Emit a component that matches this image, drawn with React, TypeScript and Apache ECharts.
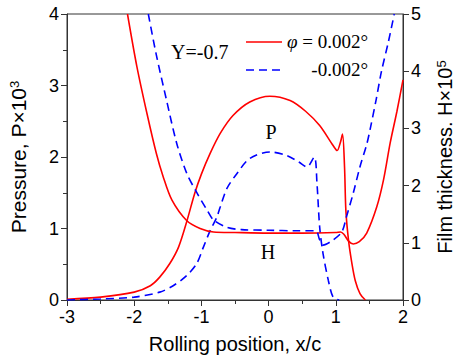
import React, { useEffect, useRef } from "react";
import * as echarts from "echarts";

// Pressure, phi = 0.002 deg (left axis, P x 10^3)
const redPX = [-3, -2.5, -2, -1.76, -1.62, -1.47, -1.34, -1.22, -1.1, -1.0, -0.87, -0.72, -0.53, -0.28, 0.02, 0.32, 0.55, 0.76, 0.96, 1.02, 1.07, 1.1, 1.13, 1.15, 1.19, 1.24, 1.29, 1.36, 1.44];
const redPY = [0.01, 0.04, 0.11, 0.2, 0.32, 0.51, 0.74, 1.09, 1.49, 1.76, 2.05, 2.33, 2.58, 2.77, 2.85, 2.79, 2.64, 2.44, 2.16, 2.09, 2.21, 2.32, 1.86, 1.25, 0.83, 0.51, 0.27, 0.09, 0.0];

// Pressure, phi = -0.002 deg
const bluePX = [-3, -2.5, -2, -1.62, -1.42, -1.22, -1.07, -0.97, -0.87, -0.77, -0.72, -0.62, -0.47, -0.28, 0.02, 0.27, 0.45, 0.57, 0.68, 0.72, 0.76, 0.81, 0.89, 0.96, 1.05];
const bluePY = [0, 0.015, 0.04, 0.11, 0.2, 0.34, 0.51, 0.74, 0.97, 1.16, 1.3, 1.56, 1.77, 1.98, 2.07, 2.02, 1.93, 1.86, 2.0, 1.63, 1.02, 0.65, 0.27, 0.04, 0];

// Film thickness, phi = 0.002 deg (right axis, H x 10^5)
const redHX = [-2.1, -1.96, -1.81, -1.67, -1.57, -1.44, -1.22, -1.02, -0.82, -0.5, 0, 0.5, 1.0, 1.07, 1.12, 1.19, 1.26, 1.35, 1.46, 1.61, 1.71, 1.81, 1.91, 2.0];
const redHY = [5, 4.08, 3.26, 2.56, 2.16, 1.75, 1.39, 1.25, 1.19, 1.18, 1.17, 1.17, 1.18, 1.19, 1.15, 1.03, 0.98, 1.02, 1.17, 1.63, 2.1, 2.75, 3.3, 3.85];

// Film thickness, phi = -0.002 deg
const blueHX = [-1.79, -1.67, -1.52, -1.37, -1.22, -1.07, -0.92, -0.82, -0.62, -0.4, 0, 0.4, 0.7, 0.76, 0.81, 0.96, 1.09, 1.16, 1.26, 1.36, 1.46, 1.51, 1.6, 1.68, 1.78, 1.87];
const blueHY = [5, 4.28, 3.5, 2.75, 2.22, 1.88, 1.58, 1.4, 1.27, 1.23, 1.22, 1.21, 1.21, 1.05, 0.96, 1.05, 1.19, 1.46, 1.87, 2.33, 2.72, 2.98, 3.5, 4.0, 4.5, 5.0];

const legendLabels = ["0.002°", "-0.002°"];
const annotation = "Y=-0.7";

const pairs = (xs: number[], ys: number[]) => xs.map((x, i) => [x, ys[i]]);

const SANS = "'Liberation Sans', Arial, sans-serif";
const SERIF = "'Liberation Serif', 'Times New Roman', serif";
const RED = "#ff0000";
const BLUE = "#0000ff";
const AXIS = "#333333";

export default function App() {
  const ref = useRef<HTMLDivElement>(null);
  useEffect(() => {
    const chart = echarts.init(ref.current!, null, { renderer: "svg" });
    const lineBase = { type: "line", showSymbol: false, symbol: "none", smooth: 0.3, clip: true };
    const supRich = (size: number) => ({
      a: { fontFamily: SANS, fontSize: size, color: "#000" },
      s: { fontFamily: SANS, fontSize: 13, color: "#000", verticalAlign: "top" },
    });
    chart.setOption({
      animation: false,
      backgroundColor: "#ffffff",
      grid: { left: 67, right: 56, top: 14, bottom: 60, show: true, borderColor: AXIS, borderWidth: 1, containLabel: false, outerBoundsMode: "none" },
      xAxis: {
        type: "value", min: -3, max: 2, interval: 1,
        name: "Rolling position, x/c", nameLocation: "middle", nameGap: 34,
        nameTextStyle: { fontFamily: SANS, fontSize: 20, color: "#000" },
        axisLine: { show: true, onZero: false, lineStyle: { color: AXIS, width: 1 } },
        axisTick: { show: true, inside: false, length: 6, lineStyle: { color: AXIS } },
        minorTick: { show: true, splitNumber: 2, length: 4, lineStyle: { color: AXIS } },
        axisLabel: { fontFamily: SANS, fontSize: 18, color: "#000", margin: 8 },
        splitLine: { show: false },
      },
      yAxis: [
        {
          type: "value", min: 0, max: 4, interval: 1, position: "left",
          name: "{a|Pressure, P×10}{s|3}", nameLocation: "middle", nameGap: 38, nameRotate: 90,
          nameTextStyle: { fontFamily: SANS, fontSize: 21, color: "#000", rich: supRich(21) },
          axisLine: { show: true, onZero: false, lineStyle: { color: AXIS, width: 1 } },
          axisTick: { show: true, inside: false, length: 6, lineStyle: { color: AXIS } },
          minorTick: { show: true, splitNumber: 2, length: 4, lineStyle: { color: AXIS } },
          axisLabel: { fontFamily: SANS, fontSize: 18, color: "#000", margin: 8 },
          splitLine: { show: false },
        },
        {
          type: "value", min: 0, max: 5, interval: 1, position: "right",
          name: "{a|Film thickness. H×10}{s|5}", nameLocation: "middle", nameGap: 32, nameRotate: 90,
          nameTextStyle: { fontFamily: SANS, fontSize: 20, color: "#000", rich: supRich(20) },
          axisLine: { show: true, onZero: false, lineStyle: { color: AXIS, width: 1 } },
          axisTick: { show: true, inside: false, length: 6, lineStyle: { color: AXIS } },
          axisLabel: { fontFamily: SANS, fontSize: 18, color: "#000", margin: 8 },
          splitLine: { show: false },
        },
      ],
      series: [
        { ...lineBase, name: "P+", yAxisIndex: 0, data: pairs(redPX, redPY), lineStyle: { color: RED, width: 1.6 } },
        { ...lineBase, name: "P-", yAxisIndex: 0, data: pairs(bluePX, bluePY), lineStyle: { color: BLUE, width: 1.6, type: [8, 5] } },
        { ...lineBase, name: "H+", yAxisIndex: 1, data: pairs(redHX, redHY), lineStyle: { color: RED, width: 1.6 } },
        { ...lineBase, name: "H-", yAxisIndex: 1, data: pairs(blueHX, blueHY), lineStyle: { color: BLUE, width: 1.6, type: [8, 5] } },
      ],
      graphic: [
        { type: "text", left: 171, top: 42, style: { text: annotation, font: `20px ${SERIF}`, fill: "#000" } },
        { type: "line", shape: { x1: 246, y1: 42, x2: 282, y2: 42 }, style: { stroke: RED, lineWidth: 1.6 } },
        { type: "line", shape: { x1: 246, y1: 70, x2: 282, y2: 70 }, style: { stroke: BLUE, lineWidth: 1.6, lineDash: [8, 5] } },
        {
          type: "text", x: 368, y: 41,
          style: {
            text: `{i|φ} = ${legendLabels[0]}`, align: "right", verticalAlign: "middle", fill: "#000", font: `19px ${SERIF}`,
            rich: { i: { fontFamily: SERIF, fontSize: 19, fontStyle: "italic", fill: "#000" } },
          },
        },
        { type: "text", x: 368, y: 69, style: { text: legendLabels[1], align: "right", verticalAlign: "middle", fill: "#000", font: `19px ${SERIF}` } },
        { type: "text", x: 271, y: 132, style: { text: "P", align: "center", verticalAlign: "middle", fill: "#000", font: `20px ${SERIF}` } },
        { type: "text", x: 268, y: 252, style: { text: "H", align: "center", verticalAlign: "middle", fill: "#000", font: `20px ${SERIF}` } },
      ],
    });
    return () => chart.dispose();
  }, []);
  return <div ref={ref} style={{ position: "fixed", left: 0, top: 0, width: 459, height: 360 }} />;
}
